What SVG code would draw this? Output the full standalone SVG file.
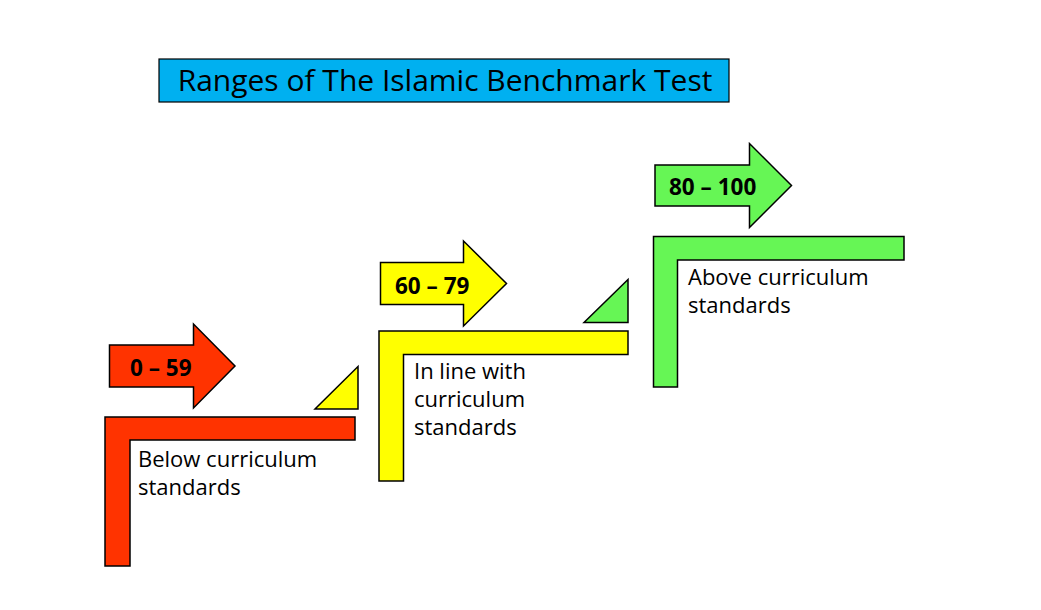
<svg xmlns="http://www.w3.org/2000/svg" width="1041" height="610" viewBox="0 0 1041 610">
<style>
.sh{stroke:#000;stroke-width:1.5;stroke-linejoin:miter}
.red{fill:#FF3300}.yel{fill:#FFFF00}.grn{fill:#66F655}
.lbl{font-family:"Open Sans","Liberation Sans",sans-serif;font-size:22px;fill:#000}
.rng{font-family:"Open Sans","Liberation Sans",sans-serif;font-size:22.5px;font-weight:bold;fill:#000}
.ttl{font-family:"Open Sans","Liberation Sans",sans-serif;font-size:30px;fill:#000}
</style>
<rect width="1041" height="610" fill="#fff"/>
<g id="title">
<rect x="159" y="59" width="570" height="43" fill="#00B0F0" stroke="#000" stroke-width="1.2"/>
<text class="ttl" x="445" y="91" text-anchor="middle">Ranges of The Islamic Benchmark Test</text>
</g>
<g id="connectors"></g>
<g id="range-low">
<path class="sh red" d="M109.5,345 L193.5,345 L193.5,324 L235,366 L193.5,408 L193.5,387 L109.5,387 Z"/>
<text class="rng" x="130" y="376">0 – 59</text>
</g>
<g id="step-low">
<path class="sh red" d="M105,417 L355,417 L355,440 L130,440 L130,566 L105,566 Z"/>
<text class="lbl" x="138" y="467">Below curriculum</text>
<text class="lbl" x="138" y="495">standards</text>
</g>
<g id="tri-low">
<path class="sh yel" d="M315,409 L358,409 L358,366.5 Z"/>
</g>
<g id="range-mid">
<path class="sh yel" d="M380.5,262.5 L463.5,262.5 L463.5,241 L506.5,283.5 L463.5,326 L463.5,304.5 L380.5,304.5 Z"/>
<text class="rng" x="395" y="293.5">60 – 79</text>
</g>
<g id="step-mid">
<path class="sh yel" d="M379,331 L628,331 L628,354.5 L403.5,354.5 L403.5,481 L379,481 Z"/>
<text class="lbl" x="414" y="379">In line with</text>
<text class="lbl" x="414" y="407">curriculum</text>
<text class="lbl" x="414" y="435">standards</text>
</g>
<g id="tri-mid">
<path class="sh grn" d="M584,322.5 L628,322.5 L628,279.5 Z"/>
</g>
<g id="range-high">
<path class="sh grn" d="M655,165 L749.5,165 L749.5,143.5 L791.5,185.5 L749.5,227.5 L749.5,206 L655,206 Z"/>
<text class="rng" x="669" y="195">80 – 100</text>
</g>
<g id="step-high">
<path class="sh grn" d="M653.5,236.5 L904,236.5 L904,260 L677.5,260 L677.5,387 L653.5,387 Z"/>
<text class="lbl" x="688" y="285">Above curriculum</text>
<text class="lbl" x="688" y="313">standards</text>
</g>
</svg>
